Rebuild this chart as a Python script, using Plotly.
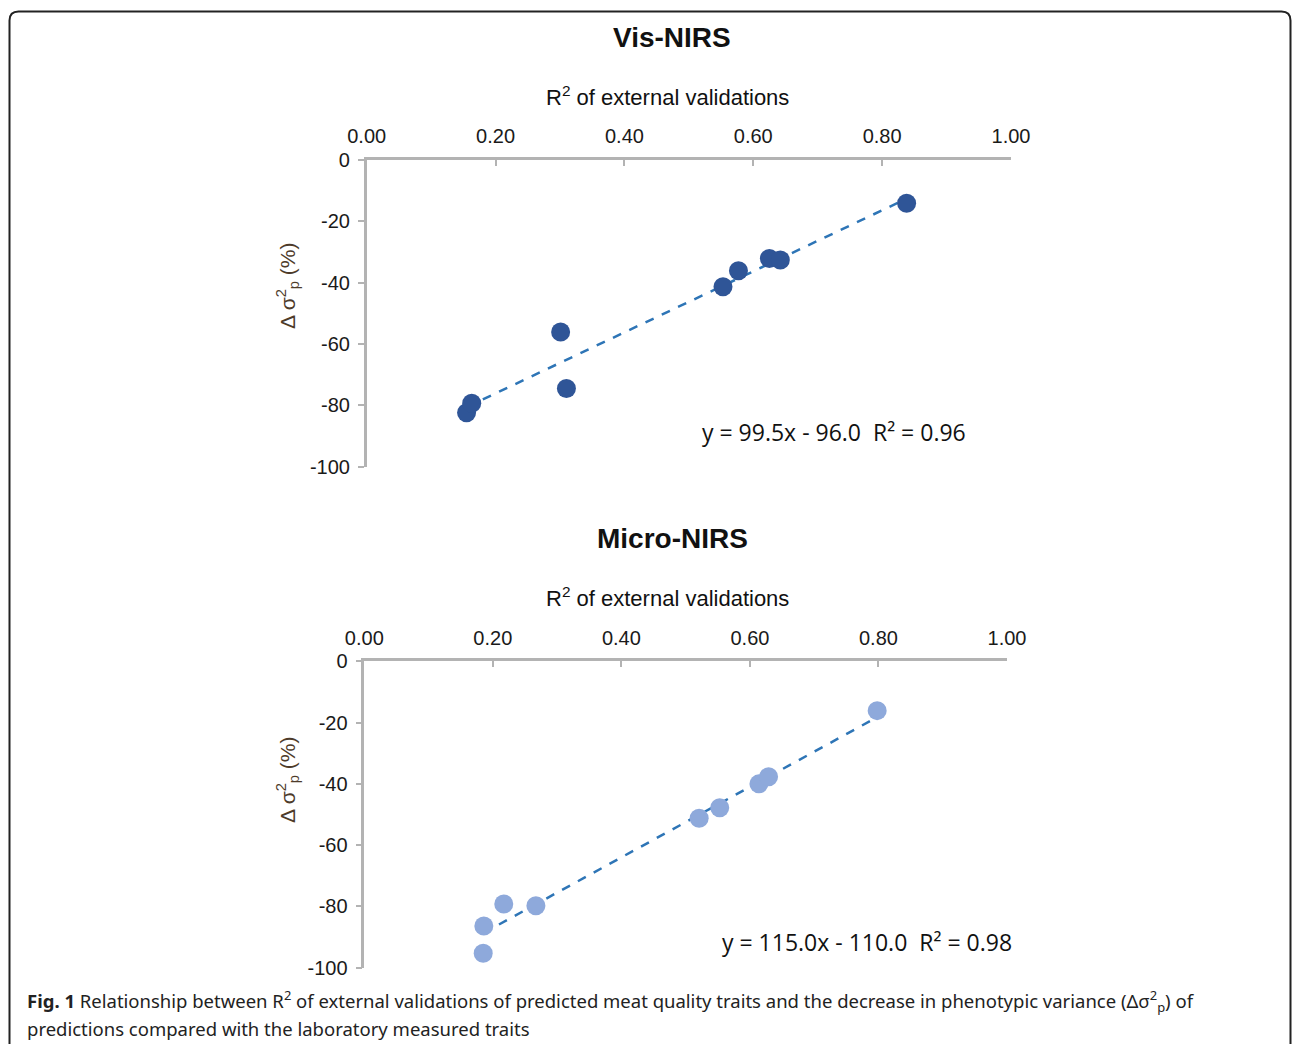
import plotly.graph_objects as go

# ---------------- data ----------------
vis_r2 = [0.155, 0.163, 0.301, 0.310, 0.553, 0.577, 0.625, 0.642, 0.838]
vis_delta = [-82.4, -79.3, -56.1, -74.5, -41.3, -36.1, -32.1, -32.6, -14.1]
vis_slope, vis_intercept, vis_rsq = 99.5, -96.0, 0.96

micro_r2 = [0.186, 0.185, 0.217, 0.267, 0.521, 0.553, 0.614, 0.629, 0.798]
micro_delta = [-86.4, -95.3, -79.2, -79.8, -51.2, -47.8, -40.0, -37.7, -16.1]
micro_slope, micro_intercept, micro_rsq = 115.0, -110.0, 0.98

x_ticks = [0.0, 0.2, 0.4, 0.6, 0.8, 1.0]
x_ticklabels = ["0.00", "0.20", "0.40", "0.60", "0.80", "1.00"]
y_ticks = [0, -20, -40, -60, -80, -100]
y_ticklabels = ["0", "-20", "-40", "-60", "-80", "-100"]

titles = ["Vis-NIRS", "Micro-NIRS"]
x_title = "R<sup>2</sup> of external validations"
y_title = "Δ σ<sup>2</sup><sub>p</sub> (%)"

W, H = 1292, 1044

def px(x):
    return x / W

def py(y):
    return 1 - y / H

fig = go.Figure()

panels = [
    dict(xs=vis_r2, ys=vis_delta, slope=vis_slope, icpt=vis_intercept, rsq=vis_rsq,
         color="#2F5597", xa="x", ya="y",
         xdom=[px(366.7), px(1011)], ydom=[py(466.7), py(160)],
         title_y=38, xtitle_y=96, ytitle_x=287, ytitle_y=286,
         eq_x=834, eq_y=432),
    dict(xs=micro_r2, ys=micro_delta, slope=micro_slope, icpt=micro_intercept, rsq=micro_rsq,
         color="#8EA9DB", xa="x2", ya="y2",
         xdom=[px(364.3), px(1007)], ydom=[py(967.7), py(661.3)],
         title_y=538, xtitle_y=597, ytitle_x=287, ytitle_y=780,
         eq_x=867, eq_y=942),
]

axis_color = "#B3B3B3"
tick_font = dict(family="Liberation Sans, Arial", size=20, color="#1a1a1a")

def ann(text, x, y, font, **kw):
    d = dict(text=text, x=px(x), y=py(y), xref="paper", yref="paper", showarrow=False,
             xanchor="center", yanchor="middle", font=font)
    d.update(kw)
    return d

annotations = []
for i, p in enumerate(panels):
    # trend line from fitted equation over data range
    xmin, xmax = min(p["xs"]), max(p["xs"])
    fig.add_trace(go.Scatter(
        x=[xmin, xmax], y=[p["slope"] * xmin + p["icpt"], p["slope"] * xmax + p["icpt"]],
        mode="lines", line=dict(color="#2E75B6", width=2.5, dash="dash"),
        xaxis=p["xa"], yaxis=p["ya"], showlegend=False, hoverinfo="skip"))
    fig.add_trace(go.Scatter(
        x=p["xs"], y=p["ys"], mode="markers",
        marker=dict(color=p["color"], size=19, line=dict(width=0)),
        xaxis=p["xa"], yaxis=p["ya"], showlegend=False))

    sfx = "" if i == 0 else "2"
    fig.layout["xaxis" + sfx] = dict(
        domain=p["xdom"], range=[0, 1], side="top", anchor="y" + sfx,
        tickvals=x_ticks, ticktext=x_ticklabels, tickfont=tick_font,
        showline=True, linecolor=axis_color, linewidth=2.5,
        ticks="inside", ticklen=6, tickwidth=2, tickcolor=axis_color,
        showgrid=False, zeroline=False, fixedrange=True, ticklabelstandoff=6,
        automargin=False)
    fig.layout["yaxis" + sfx] = dict(
        domain=p["ydom"], range=[-100, 0], anchor="x" + sfx,
        tickvals=y_ticks, ticktext=y_ticklabels, tickfont=tick_font,
        showline=True, linecolor=axis_color, linewidth=2.5,
        ticks="outside", ticklen=6, tickwidth=2, tickcolor=axis_color,
        showgrid=False, zeroline=False, fixedrange=True, ticklabelstandoff=4,
        automargin=False)

    annotations.append(ann("<b>" + titles[i] + "</b>", 672, p["title_y"],
                           dict(family="Liberation Sans, Arial", size=28, color="#111")))
    annotations.append(ann(x_title, 667, p["xtitle_y"],
                           dict(family="Liberation Sans, Arial", size=22, color="#111")))
    annotations.append(ann(y_title, p["ytitle_x"], p["ytitle_y"],
                           dict(family="Liberation Sans, Arial", size=21, color="#4D3B2A"),
                           textangle=-90))
    sign = "-" if p["icpt"] < 0 else "+"
    eq = "y = {:.1f}x {} {:.1f}  R² = {:.2f}".format(p["slope"], sign, abs(p["icpt"]), p["rsq"])
    annotations.append(ann(eq, p["eq_x"], p["eq_y"],
                           dict(family="Open Sans", size=23, color="#111")))

caption1 = ("<b>Fig. 1</b> Relationship between R<sup>2</sup> of external validations of predicted meat "
            "quality traits and the decrease in phenotypic variance (Δσ<sup>2</sup><sub>p</sub>) of")
caption2 = "predictions compared with the laboratory measured traits"
cap_font = dict(family="Noto Sans", size=18.5, color="#222")
annotations.append(ann(caption1, 25, 1001, cap_font, xanchor="left"))
annotations.append(ann(caption2, 25, 1028, cap_font, xanchor="left"))

# rounded frame (paper coordinates)
r = 9
x0, x1, y0, y1 = 9.5, 1290.5, 11.5, 1060

def P(x, y):
    return f"{px(x)},{py(y)}"

path = (f"M {P(x0, y1)} L {P(x0, y0 + r)} Q {P(x0, y0)} {P(x0 + r, y0)} "
        f"L {P(x1 - r, y0)} Q {P(x1, y0)} {P(x1, y0 + r)} L {P(x1, y1)}")
fig.add_shape(type="path", path=path, xref="paper", yref="paper",
              line=dict(color="#222", width=2))

fig.update_layout(width=W, height=H, margin=dict(l=0, r=0, t=0, b=0, autoexpand=False),
                  paper_bgcolor="white", plot_bgcolor="white",
                  annotations=annotations)

fig.write_html("out.html", config={"displayModeBar": False},
               post_script="document.body.style.margin='0';document.body.style.overflow='hidden';")
